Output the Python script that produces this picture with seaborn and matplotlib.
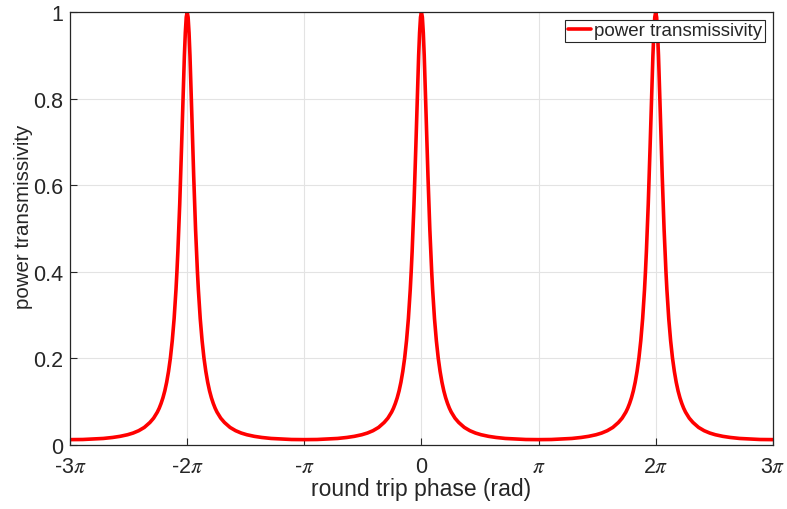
import numpy as np
import pandas as pd
import matplotlib
matplotlib.use("Agg")
import matplotlib.pyplot as plt
import seaborn as sns

# Half-profile of one transmission peak:
# offset from peak centre (rad) and power transmissivity
offset_rad = [0.0, 0.025, 0.05, 0.075, 0.1, 0.125, 0.15, 0.175, 0.2, 0.225,
              0.25, 0.275, 0.3, 0.35, 0.4, 0.45, 0.5, 0.55, 0.6, 0.65, 0.7,
              0.75, 0.8, 0.9, 1.0, 1.15, 1.3, 1.45, 1.6, 1.8, 2.0, 2.25, 2.5,
              2.8, np.pi]
transmissivity = [1.0, 0.988, 0.952, 0.899, 0.834, 0.762, 0.690, 0.621,
                  0.556, 0.498, 0.446, 0.400, 0.359, 0.292, 0.241, 0.201,
                  0.170, 0.145, 0.125, 0.109, 0.096, 0.085, 0.076, 0.062,
                  0.052, 0.0406, 0.033, 0.0276, 0.0237, 0.0200, 0.0174,
                  0.0151, 0.0139, 0.0127, 0.0124]
peak_centres = [-2 * np.pi, 0.0, 2 * np.pi]

xtick_vals = [-3 * np.pi, -2 * np.pi, -np.pi, 0, np.pi, 2 * np.pi, 3 * np.pi]
xtick_labels = [r"-3$\pi$", r"-2$\pi$", r"-$\pi$", "0", r"$\pi$", r"2$\pi$", r"3$\pi$"]
ytick_vals = [0, 0.2, 0.4, 0.6, 0.8, 1.0]
ytick_labels = ["0", "0.2", "0.4", "0.6", "0.8", "1"]

# assemble the curve from the read profile around each peak
pts = {}
for c in peak_centres:
    for d, t in zip(offset_rad, transmissivity):
        pts[round(c - d, 9)] = t
        pts[round(c + d, 9)] = t
xs = sorted(pts)
df = pd.DataFrame({"phase": xs, "T": [pts[x] for x in xs]})

sns.set_style("white")
plt.rcParams["font.family"] = ["Liberation Sans", "DejaVu Sans"]
plt.rcParams["mathtext.fontset"] = "stix"

fig = plt.figure(figsize=(7.87, 5.10), dpi=100)
ax = fig.add_axes([0.089, 0.1255, 0.893, 0.849])

sns.lineplot(data=df, x="phase", y="T", ax=ax, color="#ff0000", lw=2.6,
             label="power transmissivity", sort=False)

ax.set_xlim(-3 * np.pi, 3 * np.pi)
ax.set_ylim(0, 1)
ax.set_xticks(xtick_vals)
ax.set_xticklabels(xtick_labels)
ax.set_yticks(ytick_vals)
ax.set_yticklabels(ytick_labels)
ax.grid(True, color="#e3e3e3", lw=0.8)
ax.set_axisbelow(True)
for s in ax.spines.values():
    s.set_visible(True)
    s.set_color("#262626")
    s.set_linewidth(0.9)
ax.tick_params(direction="in", length=5, width=0.8, colors="#262626",
               labelsize=15.5, top=False, right=False, left=True, bottom=True)
ax.tick_params(axis="x", pad=8)
ax.tick_params(axis="y", pad=5)
ax.set_xlabel("round trip phase (rad)", fontsize=16.5, color="#262626", labelpad=0)
ax.set_ylabel("power transmissivity", fontsize=14.8, color="#262626")
ax.yaxis.set_label_coords(-0.053, 0.53)

leg = ax.legend(loc="upper right", fontsize=13.5, frameon=True, fancybox=False,
                handlelength=1.2, handletextpad=0.2, borderpad=0.15,
                borderaxespad=0.4)
leg.get_frame().set_edgecolor("#262626")
leg.get_frame().set_linewidth(0.8)
leg.get_frame().set_alpha(1)

fig.savefig("out.png", dpi=100)
